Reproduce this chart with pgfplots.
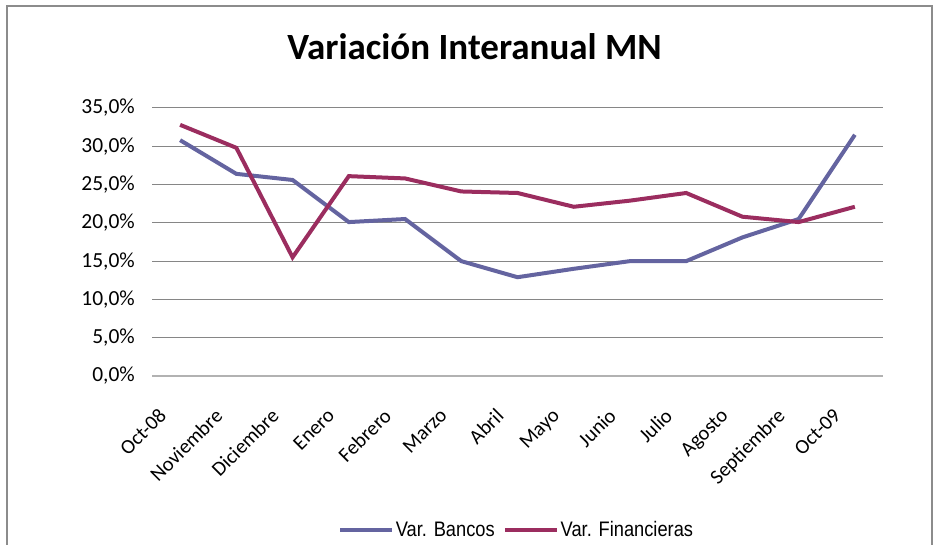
\documentclass[border=0pt]{standalone}
\usepackage{fontspec}
\setmainfont{Carlito}
\newfontfamily\narrowfont[FakeStretch=0.87]{Liberation Sans}
\usepackage{pgfplots}
\pgfplotsset{compat=1.18}
\definecolor{bancos}{RGB}{100,100,160}
\definecolor{financ}{RGB}{155,45,95}
\definecolor{gridgray}{RGB}{134,134,134}

\begin{document}
\begin{tikzpicture}[x=1pt,y=1pt]
\useasboundingbox (0,0) rectangle (938,545);
\draw[gray!90, line width=1.6pt] (7,0) -- (7,539) -- (932,539) -- (932,0);
\node[font=\fontsize{37}{40}\selectfont\bfseries, anchor=base, inner sep=0pt] at (474.5,485.5) {Variación Interanual MN};
\begin{axis}[
  at={(152pt,169pt)}, anchor=south west,
  scale only axis, width=731pt, height=268pt,
  xmin=-0.5, xmax=12.5, ymin=0, ymax=35,
  xtick={0,...,12},
  xticklabels={Oct-08,Noviembre,Diciembre,Enero,Febrero,Marzo,Abril,Mayo,Junio,Julio,Agosto,Septiembre,Oct-09},
  xticklabel style={rotate=45, anchor=north east, font=\fontsize{20.5}{22}\selectfont, inner sep=0pt, xshift=-38pt, yshift=-6pt},
  ytick={0,5,10,15,20,25,30,35},
  yticklabels={{0,0\%},{5,0\%},{10,0\%},{15,0\%},{20,0\%},{25,0\%},{30,0\%},{35,0\%}},
  yticklabel style={font=\fontsize{21.5}{23}\selectfont, inner sep=0pt, xshift=-17pt},
  major tick length=0pt,
  ymajorgrids, grid style={gridgray, line width=1pt},
  axis x line*=bottom, axis y line*=left,
  x axis line style={draw=black!30, line width=1.8pt, -},
  y axis line style={draw=none},
  legend columns=2,
  legend style={at={(0.4986,-0.575)}, anchor=center, draw=none, fill=none,
    font=\narrowfont\fontsize{21}{22}\selectfont, inner sep=0pt,
    nodes={inner sep=1.5pt},
    /tikz/every even column/.append style={column sep=7pt}},
  legend image code/.code={\draw[#1, line width=4pt] (0pt,0pt) -- (52pt,0pt);},
]
\addplot[bancos, line width=4pt] coordinates {
 (0,30.8) (1,26.4) (2,25.6) (3,20.1) (4,20.5) (5,15.0) (6,12.9)
 (7,14.0) (8,15.0) (9,15.0) (10,18.1) (11,20.5) (12,31.5)};
\addlegendentry{Var. Bancos}
\addplot[financ, line width=4pt] coordinates {
 (0,32.8) (1,29.8) (2,15.5) (3,26.1) (4,25.8) (5,24.1) (6,23.9)
 (7,22.1) (8,22.9) (9,23.9) (10,20.8) (11,20.1) (12,22.1)};
\addlegendentry{Var. Financieras}
\end{axis}
\end{tikzpicture}
\end{document}
